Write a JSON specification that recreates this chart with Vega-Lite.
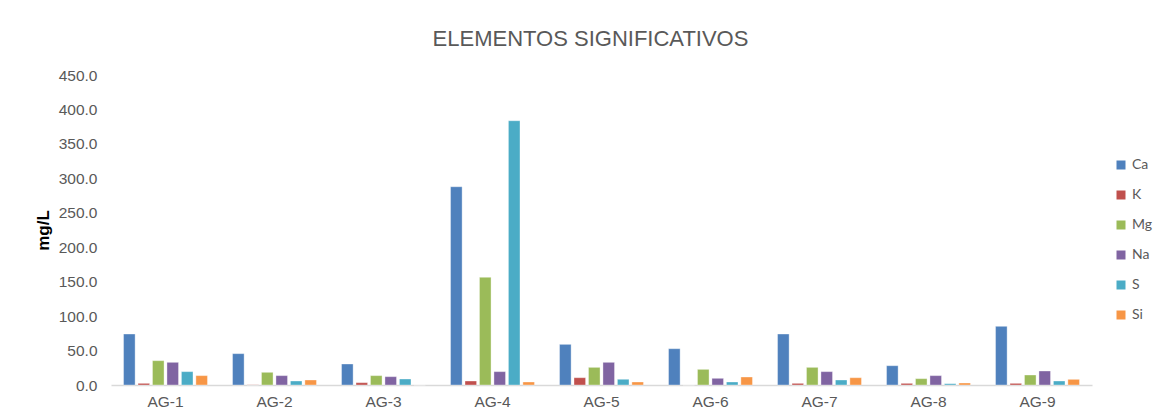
{
  "$schema": "https://vega.github.io/schema/vega-lite/v6.json",
  "width": 981,
  "height": 310,
  "autosize": {"type": "none"},
  "padding": {"left": 111, "top": 75, "right": 67, "bottom": 33},
  "background": "white",
  "title": {
    "text": "ELEMENTOS SIGNIFICATIVOS",
    "font": "Liberation Sans",
    "fontSize": 22,
    "fontWeight": "normal",
    "color": "#595959",
    "anchor": "middle",
    "dx": -11,
    "offset": 17
  },
  "data": {
    "values": [
      {"sample": "AG-1", "element": "Ca", "value": 74.0},
      {"sample": "AG-1", "element": "K", "value": 2.4},
      {"sample": "AG-1", "element": "Mg", "value": 35.3},
      {"sample": "AG-1", "element": "Na", "value": 32.9},
      {"sample": "AG-1", "element": "S", "value": 19.4},
      {"sample": "AG-1", "element": "Si", "value": 13.6},
      {"sample": "AG-2", "element": "Ca", "value": 45.5},
      {"sample": "AG-2", "element": "K", "value": 0.3},
      {"sample": "AG-2", "element": "Mg", "value": 18.4},
      {"sample": "AG-2", "element": "Na", "value": 13.6},
      {"sample": "AG-2", "element": "S", "value": 5.8},
      {"sample": "AG-2", "element": "Si", "value": 7.3},
      {"sample": "AG-3", "element": "Ca", "value": 30.5},
      {"sample": "AG-3", "element": "K", "value": 3.4},
      {"sample": "AG-3", "element": "Mg", "value": 13.6},
      {"sample": "AG-3", "element": "Na", "value": 12.1},
      {"sample": "AG-3", "element": "S", "value": 8.7},
      {"sample": "AG-3", "element": "Si", "value": 0.0},
      {"sample": "AG-4", "element": "Ca", "value": 287.8},
      {"sample": "AG-4", "element": "K", "value": 5.8},
      {"sample": "AG-4", "element": "Mg", "value": 156.3},
      {"sample": "AG-4", "element": "Na", "value": 19.4},
      {"sample": "AG-4", "element": "S", "value": 383.6},
      {"sample": "AG-4", "element": "Si", "value": 4.4},
      {"sample": "AG-5", "element": "Ca", "value": 59.0},
      {"sample": "AG-5", "element": "K", "value": 10.6},
      {"sample": "AG-5", "element": "Mg", "value": 25.6},
      {"sample": "AG-5", "element": "Na", "value": 32.9},
      {"sample": "AG-5", "element": "S", "value": 8.2},
      {"sample": "AG-5", "element": "Si", "value": 4.4},
      {"sample": "AG-6", "element": "Ca", "value": 52.7},
      {"sample": "AG-6", "element": "K", "value": 0.0},
      {"sample": "AG-6", "element": "Mg", "value": 22.7},
      {"sample": "AG-6", "element": "Na", "value": 9.7},
      {"sample": "AG-6", "element": "S", "value": 4.4},
      {"sample": "AG-6", "element": "Si", "value": 11.6},
      {"sample": "AG-7", "element": "Ca", "value": 74.0},
      {"sample": "AG-7", "element": "K", "value": 2.4},
      {"sample": "AG-7", "element": "Mg", "value": 25.6},
      {"sample": "AG-7", "element": "Na", "value": 19.4},
      {"sample": "AG-7", "element": "S", "value": 7.3},
      {"sample": "AG-7", "element": "Si", "value": 10.6},
      {"sample": "AG-8", "element": "Ca", "value": 28.0},
      {"sample": "AG-8", "element": "K", "value": 2.4},
      {"sample": "AG-8", "element": "Mg", "value": 9.2},
      {"sample": "AG-8", "element": "Na", "value": 13.6},
      {"sample": "AG-8", "element": "S", "value": 1.9},
      {"sample": "AG-8", "element": "Si", "value": 2.9},
      {"sample": "AG-9", "element": "Ca", "value": 85.2},
      {"sample": "AG-9", "element": "K", "value": 2.4},
      {"sample": "AG-9", "element": "Mg", "value": 14.5},
      {"sample": "AG-9", "element": "Na", "value": 20.3},
      {"sample": "AG-9", "element": "S", "value": 5.8},
      {"sample": "AG-9", "element": "Si", "value": 8.2}
    ]
  },
  "mark": {"type": "bar", "stroke": "#ffffff", "strokeWidth": 0.6, "strokeOpacity": 0.6},
  "encoding": {
    "x": {
      "field": "sample",
      "type": "nominal",
      "scale": {"paddingInner": 0.23, "paddingOuter": 0.115},
      "axis": {
        "title": null,
        "labelAngle": 0,
        "labelFont": "Liberation Sans",
        "labelFontSize": 15.5,
        "labelColor": "#595959",
        "labelPadding": 9,
        "ticks": false,
        "domainColor": "#D9D9D9",
        "domainWidth": 1.5
      }
    },
    "xOffset": {
      "field": "element",
      "type": "nominal",
      "scale": {"paddingInner": 0.2}
    },
    "y": {
      "field": "value",
      "type": "quantitative",
      "scale": {"domain": [0, 450]},
      "axis": {
        "title": "mg/L",
        "titleFont": "Liberation Sans",
        "titleFontSize": 17,
        "titleFontWeight": "bold",
        "titleColor": "#000000",
        "titlePadding": 6,
        "values": [0, 50, 100, 150, 200, 250, 300, 350, 400, 450],
        "format": ".1f",
        "labelFont": "Liberation Sans",
        "labelFontSize": 15.5,
        "labelColor": "#595959",
        "labelPadding": 14,
        "ticks": false,
        "domain": false,
        "grid": false
      }
    },
    "color": {
      "field": "element",
      "type": "nominal",
      "scale": {
        "domain": ["Ca", "K", "Mg", "Na", "S", "Si"],
        "range": ["#4F81BD", "#C0504D", "#9BBB59", "#8064A2", "#4BACC6", "#F79646"]
      },
      "legend": {
        "title": null,
        "orient": "none",
        "legendX": 1003,
        "legendY": 83,
        "symbolType": "square",
        "symbolSize": 81,
        "symbolStrokeWidth": 0,
        "labelFont": "Lato",
        "labelFontSize": 14,
        "labelColor": "#595959",
        "labelOffset": 4,
        "rowPadding": 16
      }
    }
  },
  "config": {
    "view": {"stroke": null}
  }
}
